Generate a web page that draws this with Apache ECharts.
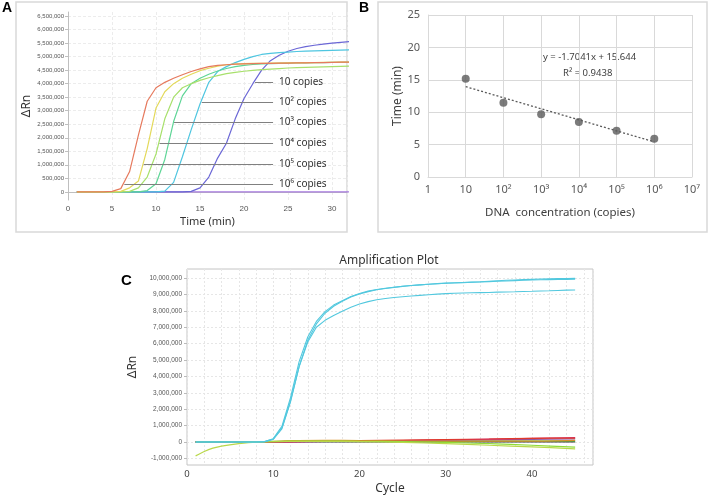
<!DOCTYPE html>
<html>
<head>
<meta charset="UTF-8">
<title>Amplification</title>
<script src="https://cdn.jsdelivr.net/npm/echarts@6/dist/echarts.min.js"></script>
<style>
*{padding:0;margin:0}
body{background:#fff}
#chart{width:708px;height:497px}
</style>
</head>
<body>
<div id="chart"></div>
<script>
// ---- A: amplification vs time, values in millions of dRn
var timeA = [1,2,3,4,5,6,7,8,9,10,11,12,13,14,15,16,17,18,19,20,21,22,23,24,25,26,27,28,29,30,31,32];
var copies1e6 = [0,0,0,0,0.02,0.12,0.75,2.1,3.35,3.85,4.05,4.2,4.33,4.45,4.55,4.63,4.68,4.7,4.72,4.73,4.74,4.75,4.75,4.76,4.76,4.77,4.77,4.78,4.78,4.79,4.8,4.8];
var copies1e5 = [0,0,0,0,0,0.02,0.15,0.4,1.6,3.1,3.7,4.0,4.2,4.35,4.48,4.57,4.65,4.7,4.72,4.74,4.75,4.75,4.76,4.76,4.77,4.77,4.78,4.78,4.79,4.79,4.8,4.8];
var copies1e4 = [0,0,0,0,0,0,0.02,0.15,0.55,1.4,2.7,3.5,3.85,4.0,4.12,4.22,4.3,4.37,4.42,4.46,4.49,4.52,4.54,4.56,4.58,4.59,4.6,4.61,4.62,4.63,4.64,4.65];
var copies1e3 = [0,0,0,0,0,0,0,0,0.05,0.3,1.2,2.6,3.55,4.0,4.2,4.35,4.47,4.56,4.63,4.68,4.71,4.73,4.74,4.75,4.76,4.77,4.77,4.78,4.78,4.79,4.79,4.8];
var copies1e2 = [0,0,0,0,0,0,0,0,0,0,0.03,0.35,1.3,2.3,3.25,4.05,4.45,4.63,4.78,4.9,5.0,5.08,5.12,5.15,5.17,5.19,5.2,5.21,5.22,5.23,5.24,5.25];
var copies10 = [0,0,0,0,0,0,0,0,0,0,0,0,0,0.02,0.15,0.55,1.25,1.8,2.7,3.45,4.0,4.5,4.85,5.05,5.2,5.3,5.37,5.42,5.46,5.5,5.53,5.56];
var ntcA = [0,0,0,0,0,0,0,0,0,0,0,0,0,0,0,0,0,0,0,0,0,0,0,0,0,0,0,0,0,0,0,0];
var yTicksA = [0,500000,1000000,1500000,2000000,2500000,3000000,3500000,4000000,4500000,5000000,5500000,6000000,6500000];
// labels pointing at the curves: start time, level (millions)
var tagNames = ['10 copies','10² copies','10³ copies','10⁴ copies','10⁵ copies','10⁶ copies'];
var tagStart = [21.25,15.2,12.05,10.4,8.6,6.4];
var tagLevel = [4.07,3.32,2.57,1.8,1.04,0.3];
var tagEnd = 23.3;

// ---- B: standard curve
var conc = [10,100,1000,10000,100000,1000000];
var timeB = [15.15,11.45,9.7,8.5,7.15,5.9];
var slope = -1.7041, intercept = 15.644;

// ---- C: amplification plot, cycles
var cycles = [];
for (var c = 1; c <= 45; c++) cycles.push(c);
var cyan1 = [0,0,0,0,0,0,0,0,0.02,0.2,0.95,2.7,4.9,6.4,7.35,7.95,8.35,8.62,8.87,9.06,9.2,9.3,9.38,9.44,9.5,9.54,9.58,9.62,9.65,9.68,9.7,9.72,9.74,9.76,9.78,9.8,9.82,9.84,9.86,9.88,9.89,9.9,9.91,9.92,9.93];
var cyan2 = [0,0,0,0,0,0,0,0,0.01,0.15,0.8,2.45,4.6,6.2,7.2,7.85,8.28,8.58,8.84,9.03,9.17,9.28,9.36,9.43,9.49,9.54,9.58,9.62,9.66,9.69,9.71,9.73,9.75,9.77,9.8,9.83,9.86,9.88,9.9,9.92,9.94,9.95,9.96,9.97,9.98];
var cyan3 = [0,0,0,0,0,0,0,0,0.02,0.18,0.85,2.5,4.6,6.1,7.0,7.42,7.72,7.97,8.22,8.42,8.56,8.67,8.75,8.81,8.86,8.9,8.94,8.98,9.02,9.05,9.07,9.09,9.1,9.11,9.12,9.14,9.15,9.16,9.18,9.19,9.21,9.22,9.24,9.26,9.27];
var lowCycles = [1,2,3,4,6,8,12,16,20,25,30,35,40,45];
var lowRed = [0,0,0,0,0,0,0.02,0.05,0.08,0.12,0.15,0.18,0.22,0.24];
var lowMagenta = [0,0,0,0,0,0,0.01,0.03,0.06,0.09,0.13,0.17,0.22,0.27];
var lowPurple = [0,0,0,0,0,0,0.01,0.03,0.05,0.08,0.1,0.13,0.16,0.19];
var lowGreen = [0,0,0,0,0,0,0.03,0.05,0.05,0.05,0.05,0.06,0.06,0.06];
var lowDark = [0,0,0,0,0,0,0,0.01,0.01,0,0,0,0,0];
var lowOrange = [0,0,0,0,0,0,0.08,0.1,0.08,0.06,0.05,0.05,0.05,0.1];
var lowYellowGreen = [-0.85,-0.58,-0.38,-0.25,-0.1,-0.01,0.03,0.04,0.02,-0.03,-0.1,-0.2,-0.3,-0.42];
var lowLightGreen = [0,0,0,0,0,0.01,0.05,0.06,0.04,0.02,-0.03,-0.1,-0.2,-0.32];
var yTicksC = [-1000000,0,1000000,2000000,3000000,4000000,5000000,6000000,7000000,8000000,9000000,10000000];

var sup = {2:'²',3:'³',4:'⁴',5:'⁵',6:'⁶',7:'⁷'};
function pairs(xs, ys) {
    return xs.map(function (x, i) { return [x, ys[i] * 1e6]; });
}
function comma(v) { return Math.round(v).toLocaleString('en-US'); }

var series = [];
// A curves
var curvesA = [
    [ntcA, '#a77ae0'], [copies10, '#6b67d6'], [copies1e2, '#4fc6e0'],
    [copies1e3, '#5ed596'], [copies1e4, '#a8e06c'], [copies1e5, '#e3d95a'], [copies1e6, '#e67a5e']
];
curvesA.forEach(function (cv, k) {
    var s = {
        type: 'line', xAxisIndex: 0, yAxisIndex: 0, data: pairs(timeA, cv[0]),
        symbol: 'none', lineStyle: {color: cv[1], width: 1.2}, z: 3
    };
    if (k === 0) {
        s.markLine = {
            silent: true, symbol: 'none', animation: false,
            lineStyle: {color: '#808080', width: 1, type: 'solid'},
            label: {position: 'end', distance: 6, color: '#333', fontSize: 10, fontFamily: 'Noto Sans',
                formatter: function (p) { return p.name; }},
            data: tagNames.map(function (n, i) {
                return [{name: n, coord: [tagStart[i], tagLevel[i] * 1e6]}, {coord: [tagEnd, tagLevel[i] * 1e6]}];
            })
        };
    }
    series.push(s);
});
// B
series.push({
    type: 'line', xAxisIndex: 1, yAxisIndex: 1, symbol: 'none',
    data: [[conc[0], slope * 1 + intercept], [conc[5], slope * 6 + intercept]],
    lineStyle: {color: '#595959', width: 1.3, type: [2, 2]}
});
series.push({
    type: 'scatter', xAxisIndex: 1, yAxisIndex: 1, symbolSize: 8, z: 4,
    itemStyle: {color: '#5a5a5a'},
    data: conc.map(function (x, i) { return [x, timeB[i]]; })
});
// C low curves
[[lowDark, '#3a3a3a'], [lowGreen, '#2fbf2f'], [lowPurple, '#8a5aa8'], [lowMagenta, '#d0307a'],
 [lowRed, '#e03a2a'], [lowOrange, '#d9902a'], [lowLightGreen, '#8fdc3a'], [lowYellowGreen, '#b9d84a']].forEach(function (cv) {
    series.push({type: 'line', xAxisIndex: 2, yAxisIndex: 2, data: pairs(lowCycles, cv[0]),
        symbol: 'none', smooth: 0.3, lineStyle: {color: cv[1], width: 1.2}});
});
[cyan3, cyan2, cyan1].forEach(function (cv) {
    series.push({type: 'line', xAxisIndex: 2, yAxisIndex: 2, data: pairs(cycles, cv),
        symbol: 'none', lineStyle: {color: '#52c8de', width: 1.1}});
});

var smallGrey = {color: '#555', fontFamily: 'Liberation Sans'};
var option = {
    animation: false,
    title: {text: 'Amplification Plot', left: 384, top: 250, textAlign: 'center',
        textStyle: {fontSize: 12, fontWeight: 'normal', color: '#333', fontFamily: 'Noto Sans'}},
    grid: [
        {left: 68, top: 12, width: 279, height: 188},
        {left: 428, top: 15, width: 264, height: 162},
        {left: 187, top: 269, width: 406, height: 196, show: true, borderColor: '#c4c4c4', borderWidth: 1}
    ],
    xAxis: [
        {gridIndex: 0, type: 'value', min: 0, max: 31.7, interval: 5,
            name: 'Time (min)', nameLocation: 'middle', nameGap: 16,
            nameTextStyle: {fontSize: 11, color: '#333', fontFamily: 'Noto Sans'},
            axisLine: {lineStyle: {color: '#bfbfbf'}}, axisTick: {show: false},
            axisLabel: Object.assign({fontSize: 8, margin: 5}, smallGrey, {formatter: function (v) { return Number.isInteger(v) ? v : ''; }}),
            splitLine: {show: true, lineStyle: {color: '#ececec', type: [3, 2]}}},
        {gridIndex: 1, type: 'log', logBase: 10, min: 1, max: 10000000, splitNumber: 7,
            name: 'DNA  concentration (copies)', nameLocation: 'middle', nameGap: 30,
            nameTextStyle: {fontSize: 11.5, color: '#404040', fontFamily: 'Noto Sans'},
            axisLine: {lineStyle: {color: '#d9d9d9'}}, axisTick: {show: false},
            axisLabel: {fontSize: 11, color: '#595959', fontFamily: 'Noto Sans', margin: 7,
                formatter: function (v) {
                    var e = Math.round(Math.log10(v));
                    if (e === 0) return '1';
                    if (e === 1) return '10';
                    return '10' + sup[e];
                }},
            splitLine: {show: true, lineStyle: {color: '#d9d9d9'}}},
        {gridIndex: 2, type: 'value', min: 0, max: 47.07, interval: 2,
            name: 'Cycle', nameLocation: 'middle', nameGap: 18,
            nameTextStyle: {fontSize: 12, color: '#333', fontFamily: 'Noto Sans'},
            axisLine: {show: false}, axisTick: {show: false},
            axisLabel: {fontSize: 9.5, color: '#444', fontFamily: 'Noto Sans', margin: 4,
                formatter: function (v) { return v % 10 === 0 ? v : ''; }},
            splitLine: {show: true, lineStyle: {color: '#e6e6e6', type: [2, 2]}}}
    ],
    yAxis: [
        {gridIndex: 0, type: 'value', min: -300000, max: 6650000,
            name: 'ΔRn', nameLocation: 'middle', nameGap: 35,
            nameTextStyle: {fontSize: 12, color: '#333', fontFamily: 'Noto Sans'},
            axisLine: {show: true, lineStyle: {color: '#bfbfbf'}},
            axisTick: {show: true, length: 3, lineStyle: {color: '#bfbfbf'}, customValues: yTicksA},
            axisLabel: Object.assign({fontSize: 6, margin: 4, customValues: yTicksA, formatter: comma}, smallGrey),
            splitLine: {show: true, lineStyle: {color: '#ececec', type: [3, 2]}}},
        {gridIndex: 1, type: 'value', min: 0, max: 25, interval: 5,
            name: 'Time (min)', nameLocation: 'middle', nameGap: 20,
            nameTextStyle: {fontSize: 12, color: '#404040', fontFamily: 'Noto Sans'},
            axisLine: {show: true, lineStyle: {color: '#d9d9d9'}}, axisTick: {show: false},
            axisLabel: {fontSize: 11, color: '#595959', fontFamily: 'Noto Sans', margin: 8},
            splitLine: {show: true, lineStyle: {color: '#d9d9d9'}}},
        {gridIndex: 2, type: 'value', min: -1405000, max: 10550000,
            name: 'ΔRn', nameLocation: 'middle', nameGap: 38,
            nameTextStyle: {fontSize: 12, color: '#333', fontFamily: 'Noto Sans'},
            axisLine: {show: false},
            axisTick: {show: true, length: 3, lineStyle: {color: '#bbb'}, customValues: yTicksC},
            axisLabel: Object.assign({fontSize: 6.5, margin: 5, customValues: yTicksC, formatter: comma}, smallGrey),
            splitLine: {show: true, lineStyle: {color: '#e6e6e6', type: [2, 2]}}}
    ],
    graphic: [
        {type: 'rect', shape: {x: 16, y: 2, width: 331, height: 230}, style: {fill: 'none', stroke: '#d9d9d9', lineWidth: 1.5}, z: -1},
        {type: 'rect', shape: {x: 378, y: 2, width: 329, height: 230}, style: {fill: 'none', stroke: '#d9d9d9', lineWidth: 1.5}, z: -1},
        {type: 'text', left: 2, top: 1, style: {text: 'A', font: 'bold 14px Liberation Sans', fill: '#000'}},
        {type: 'text', left: 359, top: 1, style: {text: 'B', font: 'bold 14px Liberation Sans', fill: '#000'}},
        {type: 'text', left: 121, top: 273, style: {text: 'C', font: 'bold 15px Liberation Sans', fill: '#000'}},
        {type: 'text', left: 543, top: 52, style: {text: 'y = -1.7041x + 15.644', font: '9.5px Noto Sans', fill: '#404040'}},
        {type: 'text', left: 563, top: 68, style: {text: 'R² = 0.9438', font: '9.5px Noto Sans', fill: '#404040'}}
    ],
    series: series
};

var chart = echarts.init(document.getElementById('chart'));
chart.setOption(option);
</script>
</body>
</html>
